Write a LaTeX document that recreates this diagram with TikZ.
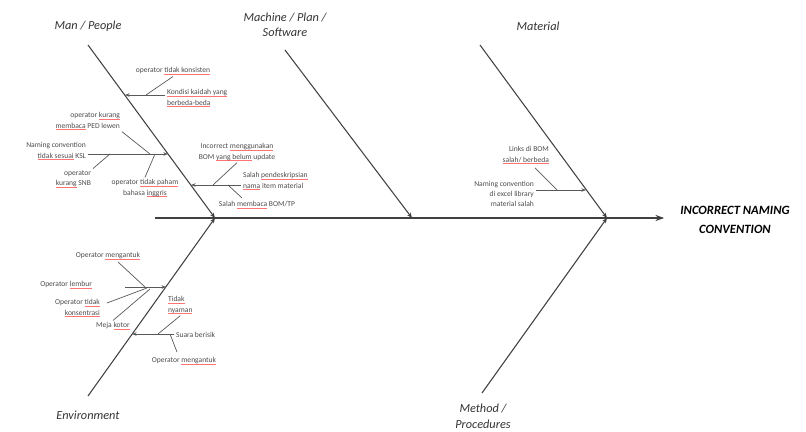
\documentclass[tikz,border=0pt]{standalone}
\usepackage{fontspec}
\setmainfont{Carlito}
\usetikzlibrary{arrows.meta}

\definecolor{txt}{gray}{0.3}
% piros aláhúzás (helyesírás-jelölés)
\newsavebox{\typobox}
\newcommand{\typo}[1]{\sbox{\typobox}{#1}%
    \rlap{\color{red!55}\rule[-0.9pt]{\wd\typobox}{0.22pt}}\usebox{\typobox}}

\begin{document}
\begin{tikzpicture}[x=0.02cm, y=-0.02cm,
    bone/.style={draw=black!75, line width=0.6pt, -{Stealth[length=3pt, width=2.4pt]}},
    twig/.style={draw=black!65, line width=0.4pt},
    twigarr/.style={twig, -{Stealth[length=2.6pt, width=2pt]}},
    cat/.style={font=\fontsize{7}{8.8}\selectfont\itshape, text=black!80, align=center, inner sep=1pt},
    cause/.style={font=\fontsize{4.3}{5.9}\selectfont, text=txt, inner sep=1pt}]

    \useasboundingbox (0,0) rectangle (806,432);

    % 1. Gerinc és okozat
    \coordinate (tail) at (155,218);
    \node[font=\fontsize{7.2}{11}\selectfont\bfseries\itshape, align=center, inner sep=1pt]
        (effect) at (735,220) {INCORRECT NAMING\\CONVENTION};
    \draw[line width=0.7pt, black!75, -{Stealth[length=5pt, width=3.5pt]}]
        (tail) -- ([xshift=-8pt]tail -| effect.west);

    % 2. Fő csontok (kategóriák)
    \coordinate (j-man) at (215,218);
    \coordinate (j-mach) at (412,218);
    \coordinate (j-mat) at (607,218);

    \node[cat] (man) at (88,26) {Man / People};
    \coordinate (s-man) at (88,45);
    \draw[bone] (s-man) -- (j-man);

    \node[cat] (mach) at (285,25) {Machine / Plan /\\Software};
    \coordinate (s-mach) at (285,50);
    \draw[bone] (s-mach) -- (j-mach);

    \node[cat] (mat) at (538,26) {Material};
    \coordinate (s-mat) at (480,45);
    \draw[bone] (s-mat) -- (j-mat);

    \node[cat] (env) at (88,415) {Environment};
    \coordinate (s-env) at (88,396);
    \draw[bone] (s-env) -- (j-man);

    \node[cat, font=\fontsize{7}{9.2}\selectfont\itshape] (meth) at (483,416) {Method /\\Procedures};
    \coordinate (s-meth) at (482,393);
    \draw[bone] (s-meth) -- (j-mat);

    % 3. Man / People okai
    \coordinate (b1-end) at (125,95);
    \node[cause, anchor=west, align=left] (t-kondisi) at (165,98)
        {\typo{Kondisi kaidah yang}\\\typo{berbeda-beda}};
    \node[cause] (t-konsisten) at (173,71) {operator \typo{tidak konsisten}};
    \draw[twigarr] (t-kondisi.west |- b1-end) -- (b1-end);
    \coordinate (b1-k) at (146,95);
    \draw[twig] (b1-k) -- (t-konsisten.south);

    \coordinate (b2-end) at (168,154);
    \node[cause, anchor=east, align=right] (t-naming) at (88,151)
        {Naming convention\\\typo{tidak sesuai} KSL};
    \draw[twigarr] (t-naming.east |- b2-end) -- (b2-end);
    \node[cause, anchor=east, align=right] (t-membaca) at (122,121)
        {operator \typo{kurang}\\\typo{membaca} PED lewen};
    \node[cause, anchor=east, align=right] (t-snb) at (93,179)
        {operator\\\typo{kurang} SNB};
    \node[cause, align=center] (t-paham) at (145,188)
        {operator \typo{tidak paham}\\bahasa \typo{inggris}};
    \coordinate (b2-a) at (150,154);
    \coordinate (b2-b) at (110,154);
    \coordinate (b2-c) at (155,154);
    \draw[twig] (b2-a) -- (t-membaca.south east);
    \draw[twig] (b2-b) -- (t-snb.north east);
    \draw[twig] (b2-c) -- (t-paham.north);

    \coordinate (b3-end) at (191,185);
    \node[cause, anchor=west, align=left] (t-deskripsi) at (241,181)
        {Salah \typo{pendeskripsian}\\\typo{nama} item material};
    \draw[twigarr] (t-deskripsi.west |- b3-end) -- (b3-end);
    \node[cause, align=center] (t-incorrect) at (237,152)
        {Incorrect \typo{menggunakan}\\BOM \typo{yang belum} update};
    \node[cause] (t-salah) at (257,205) {Salah \typo{membaca} BOM/TP};
    \coordinate (b3-a) at (213,185);
    \coordinate (b3-b) at (228,185);
    \coordinate (e-salah) at (242,198);
    \draw[twig] (b3-a) -- (t-incorrect.south);
    \draw[twig] (b3-b) -- (e-salah);

    % 4. Material okai
    \coordinate (b6-end) at (586,190);
    \node[cause, anchor=east, align=right] (t-library) at (536,194)
        {Naming convention\\di excel library\\material salah};
    \draw[twigarr] (t-library.east |- b6-end) -- (b6-end);
    \node[cause, anchor=east, align=right] (t-links) at (551,155)
        {Links di BOM\\\typo{salah/ berbeda}};
    \coordinate (b6-a) at (557,190);
    \coordinate (e-links) at (535,168);
    \draw[twig] (b6-a) -- (e-links);

    % 5. Environment okai
    \coordinate (b4-end) at (166,287);
    \coordinate (b4-start) at (125,287);
    \draw[twigarr] (b4-start) -- (b4-end);
    \node[cause] (t-ngantuk1) at (108,256) {Operator \typo{mengantuk}};
    \node[cause, anchor=east] (t-lembur) at (94,285) {Operator \typo{lembur}};
    \node[cause, anchor=east, align=right] (t-konsentrasi) at (102,308)
        {Operator \typo{tidak}\\\typo{konsentrasi}};
    \node[cause] (t-meja) at (113,326) {Meja \typo{kotor}};
    \coordinate (b4-a) at (145,287);
    \coordinate (b4-b) at (147,288);
    \coordinate (b4-c) at (150,289);
    \coordinate (e-ngantuk1) at (118,262);
    \coordinate (e-konsentrasi) at (107,303);
    \draw[twig] (b4-a) -- (e-ngantuk1);
    \draw[twig] (b4-b) -- (e-konsentrasi);
    \draw[twig] (b4-c) -- (t-meja.north);

    \coordinate (b5-end) at (132,334);
    \node[cause, anchor=west] (t-berisik) at (174,335) {Suara berisik};
    \draw[twigarr] (t-berisik.west |- b5-end) -- (b5-end);
    \node[cause, anchor=west, align=left] (t-nyaman) at (166,305)
        {\typo{Tidak}\\\typo{nyaman}};
    \node[cause] (t-ngantuk2) at (184,361) {Operator \typo{mengantuk}};
    \coordinate (b5-a) at (158,334);
    \coordinate (b5-b) at (170,334);
    \coordinate (e-ngantuk2) at (177,352);
    \draw[twig] (b5-a) -- (t-nyaman.south);
    \draw[twig] (b5-b) -- (e-ngantuk2);
\end{tikzpicture}
\end{document}
